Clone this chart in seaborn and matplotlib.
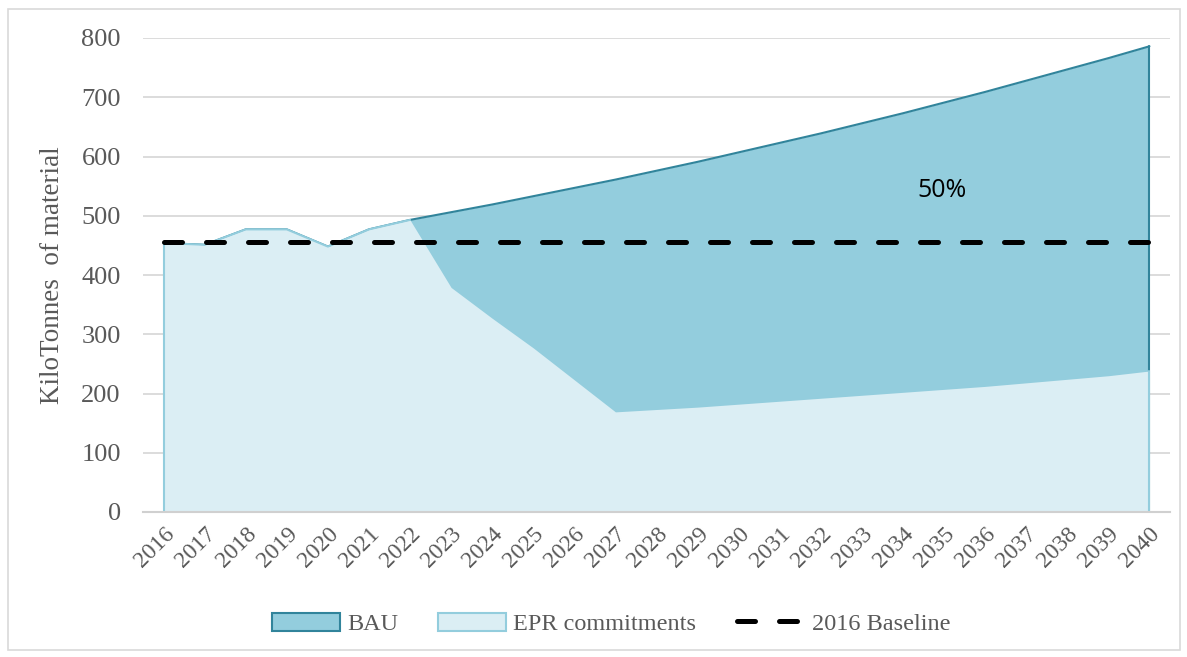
import numpy as np
import pandas as pd
import seaborn as sns
import matplotlib.pyplot as plt
from matplotlib.patches import Patch, Rectangle
from matplotlib.lines import Line2D

years = list(range(2016, 2041))
bau = [454, 451, 477, 477, 448, 477, 493, 506, 519, 533, 547, 561, 576, 591,
       607, 623, 639, 656, 673, 691, 709, 728, 747, 766, 786]
epr = [454, 451, 477, 477, 448, 477, 493, 379, 327, 277, 223, 169, 173, 177,
       182, 187, 192, 197, 202, 207, 212, 218, 224, 230, 238]
baseline = 455
label_text = "50%"
label_year = 2034.95
label_value = 543

df = pd.DataFrame({"year": years, "BAU": bau, "EPR commitments": epr})
df["2016 Baseline"] = baseline

bau_fill, bau_edge = "#93CDDD", "#31849B"
epr_fill, epr_edge = "#DBEEF4", "#93CDDD"
grey = "#595959"

sns.set_style("white")
plt.rcParams["font.family"] = ["Liberation Serif", "DejaVu Serif"]

fig = plt.figure(figsize=(11.87, 6.57), dpi=100)
ax = fig.add_axes([143 / 1187, 1 - 512 / 657, (1170 - 143) / 1187, (512 - 38) / 657])

# areas
ax.fill_between(df["year"], 0, df["BAU"], color=bau_fill, lw=0, zorder=2)
sns.lineplot(data=df, x="year", y="BAU", color=bau_edge, lw=1.5, ax=ax, zorder=3)
ax.plot([2040, 2040], [0, bau[-1]], color=bau_edge, lw=1.5, zorder=3)
ax.fill_between(df["year"], 0, df["EPR commitments"], color=epr_fill, lw=0, zorder=4)
sns.lineplot(data=df.iloc[:7], x="year", y="EPR commitments", color=epr_edge, lw=1.5, ax=ax, zorder=5)
ax.plot([2016, 2016], [0, epr[0]], color=epr_edge, lw=1.5, zorder=5)
ax.plot([2040, 2040], [0, epr[-1]], color=epr_edge, lw=1.5, zorder=5)

# baseline
sns.lineplot(data=df, x="year", y="2016 Baseline", color="black", lw=3.6,
             dashes=False, ax=ax, zorder=6)
ax.lines[-1].set_dashes([3.6, 4.8])
ax.lines[-1].set_dash_capstyle("round")

ax.text(label_year, label_value, label_text, fontsize=18, family=["Open Sans", "DejaVu Sans"],
        ha="center", va="center", color="black", zorder=7)

ax.set_xlim(2015.5, 2040.5)
ax.set_ylim(0, 800)
ax.set_yticks(range(0, 801, 100))
ax.set_xticks(years)
ax.set_xticklabels([str(y) for y in years], rotation=45, ha="right",
                   rotation_mode="anchor", fontsize=17, color=grey)
ax.tick_params(axis="y", labelsize=19, labelcolor=grey, length=0, pad=16)
ax.tick_params(axis="x", length=0, pad=8)
ax.yaxis.grid(True, color="#D9D9D9", lw=1.3, zorder=0)
ax.set_axisbelow(True)
for s in ["top", "right", "left"]:
    ax.spines[s].set_visible(False)
ax.spines["bottom"].set_color("#D0D0D0")
ax.spines["bottom"].set_linewidth(1.5)
ax.spines["bottom"].set_zorder(8)
ax.set_xlabel("")
ax.set_ylabel("KiloTonnes  of material", fontsize=19.5, color=grey, labelpad=12)

handles = [Patch(facecolor=bau_fill, edgecolor=bau_edge, lw=1.5, label="BAU"),
           Patch(facecolor=epr_fill, edgecolor=epr_edge, lw=1.5, label="EPR commitments"),
           Line2D([], [], color="black", lw=3.6, dashes=[3.6, 4.8], dash_capstyle="round",
                  label="2016 Baseline")]
fig.legend(handles=handles, loc="center", bbox_to_anchor=(611 / 1187, 1 - 624 / 657),
           ncol=3, frameon=False, fontsize=17.5, labelcolor=grey, handlelength=2.8,
           handleheight=0.8, columnspacing=1.65, handletextpad=0.3)

fig.patches.append(Rectangle((8 / 1187, 1 - 650 / 657), 1172 / 1187, 641 / 657,
                             transform=fig.transFigure, fill=False, ec="#D9D9D9", lw=1.2))

fig.savefig("out.png", dpi=100)
